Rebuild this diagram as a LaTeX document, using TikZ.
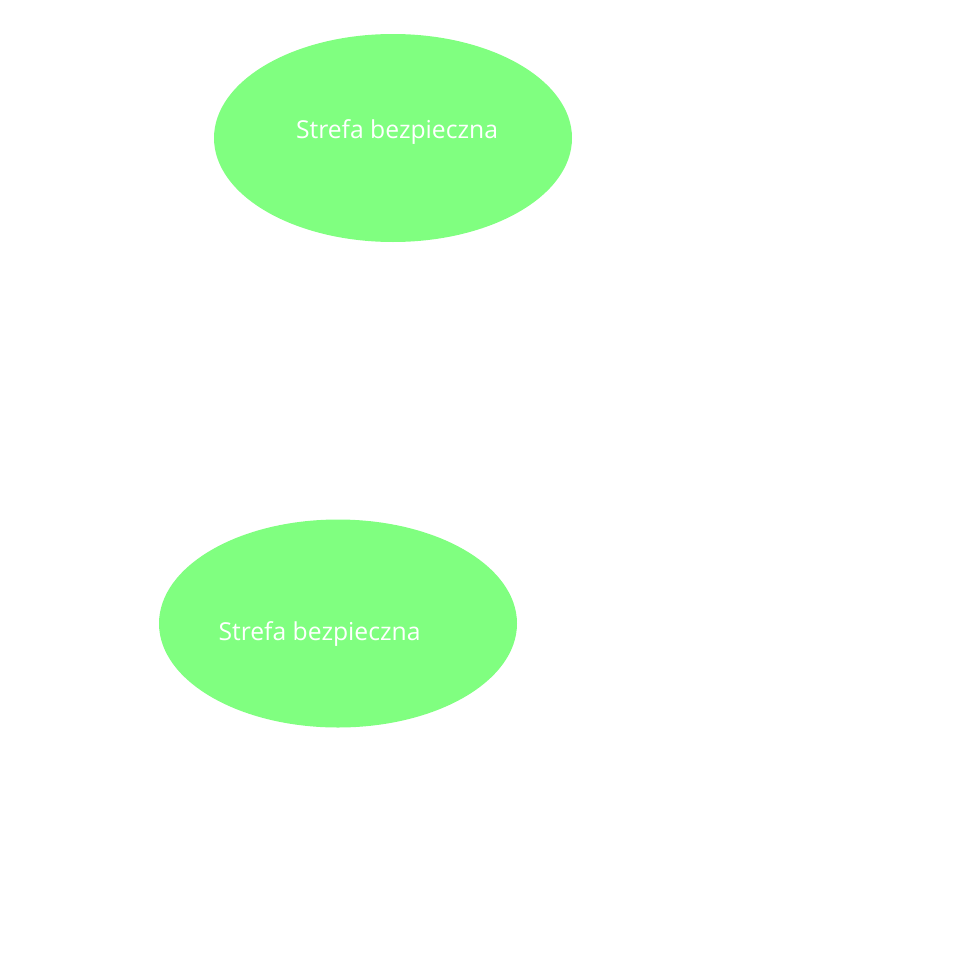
\documentclass[tikz,border=0pt]{standalone}
\usepackage{fontspec}
\setmainfont{Open Sans}
\usetikzlibrary{shapes.geometric}
\begin{document}
\begin{tikzpicture}[x=1pt,y=-1pt,
  zone/.style={fill=zonegreen,draw=none,ellipse,minimum width=358pt,minimum height=208pt,inner sep=0pt},
  zonelabel/.style={text=white,font=\fontsize{24.7}{28}\selectfont,anchor=base,inner sep=0pt}]
\definecolor{zonegreen}{HTML}{80FF80}
\useasboundingbox (0,0) rectangle (969,969);
\node[zone] (z1) at (393,138) {};
\node[zonelabel] (t1) at (397,138) {Strefa bezpieczna};
\node[zone] (z2) at (338,623.5) {};
\node[zonelabel] (t2) at (319.5,640) {Strefa bezpieczna};
\end{tikzpicture}
\end{document}
